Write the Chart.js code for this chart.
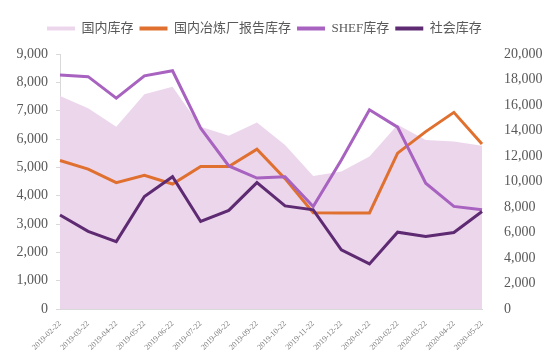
<!DOCTYPE html>
<html>
<head>
<meta charset="utf-8">
<script src="https://cdn.jsdelivr.net/npm/chart.js@4.4.0/dist/chart.umd.min.js"></script>
<style>
html,body{margin:0;padding:0;background:#fff;}
#wrap{width:550px;height:360px;position:relative;}
</style>
</head>
<body>
<div id="wrap"><canvas id="c" width="550" height="360"></canvas></div>
<script>
const labels = ['2019-02-22','2019-03-22','2019-04-22','2019-05-22','2019-06-22','2019-07-22','2019-08-22','2019-09-22','2019-10-22','2019-11-22','2019-12-22','2020-01-22','2020-02-22','2020-03-22','2020-04-22','2020-05-22'];
const domesticStock = [16710, 15750, 14300, 16840, 17440, 14300, 13580, 14620, 12870, 10440, 10780, 11960, 14450, 13260, 13130, 12800];
const smelterStock = [5240, 4940, 4460, 4720, 4410, 5030, 5030, 5640, 4600, 3400, 3390, 3390, 5500, 6260, 6940, 5820];
const shfeStock = [8260, 8200, 7440, 8230, 8410, 6380, 5050, 4620, 4670, 3620, 5260, 7030, 6420, 4440, 3620, 3500];
const socialStock = [3320, 2740, 2380, 3970, 4670, 3090, 3480, 4460, 3640, 3500, 2090, 1590, 2710, 2560, 2700, 3440];
const leftTicks = {min: 0, max: 9000, step: 1000};
const rightTicks = {min: 0, max: 20000, step: 2000};

const serif = '"Liberation Serif", "Times New Roman", "Noto Sans CJK SC", serif';
const textColor = '#595959';

const legendFix = {
  id: 'legendFix',
  beforeInit(chart) {
    const lg = chart.legend;
    if (!lg) return;
    const orig = lg.fit;
    lg.fit = function() { orig.call(this); this.height = 38; };
  },
  afterLayout(chart) {
    const lg = chart.legend;
    if (!lg) return;
    const pad = lg.options.labels.padding;
    lg.left = 47 - pad;
  }
};

new Chart(document.getElementById('c'), {
  type: 'line',
  data: {
    labels: labels,
    datasets: [
      {label: '国内库存', data: domesticStock, yAxisID: 'y2', fill: 'origin', backgroundColor: 'rgb(236,214,236)', borderColor: 'rgb(236,214,236)', borderWidth: 0, pointRadius: 0, tension: 0, order: 4},
      {label: '国内冶炼厂报告库存', data: smelterStock, yAxisID: 'y', borderColor: '#e0702f', backgroundColor: '#e0702f', borderWidth: 3, pointRadius: 0, tension: 0, fill: false, order: 3},
      {label: 'SHEF库存', data: shfeStock, yAxisID: 'y', borderColor: '#a862c0', backgroundColor: '#a862c0', borderWidth: 3, pointRadius: 0, tension: 0, fill: false, order: 2},
      {label: '社会库存', data: socialStock, yAxisID: 'y', borderColor: '#5e2a72', backgroundColor: '#5e2a72', borderWidth: 3, pointRadius: 0, tension: 0, fill: false, order: 1}
    ]
  },
  options: {
    responsive: false,
    animation: false,
    layout: {padding: {top: 16, left: 0, right: 0, bottom: 0}},
    plugins: {
      tooltip: {enabled: false},
      legend: {
        position: 'top',
        align: 'start',
        labels: {
          boxWidth: 28,
          boxHeight: 4,
          padding: 6,
          color: textColor,
          font: {family: serif, size: 13},
          sort: (a, b) => a.datasetIndex - b.datasetIndex,
          generateLabels(chart) {
            return chart.data.datasets.map((ds, i) => ({
              text: ds.label,
              fillStyle: ds.borderColor,
              strokeStyle: ds.borderColor,
              lineWidth: 0,
              hidden: false,
              datasetIndex: i,
              fontColor: textColor
            }));
          }
        }
      }
    },
    scales: {
      x: {
        type: 'category',
        offset: false,
        grid: {display: false},
        border: {display: true, color: '#d9d9d9'},
        ticks: {minRotation: 45, maxRotation: 45, autoSkip: false, padding: 2, color: '#7f7f7f', font: {family: serif, size: 8}},
        afterFit(s) { s.height = 51; }
      },
      y: {
        position: 'left',
        min: leftTicks.min, max: leftTicks.max,
        grid: {display: true, drawOnChartArea: false, drawTicks: true, tickLength: 4, color: '#d9d9d9'},
        border: {display: true, color: '#d9d9d9'},
        ticks: {stepSize: leftTicks.step, padding: 8, color: textColor, font: {family: serif, size: 14}},
        afterFit(s) { s.width = 60; }
      },
      y2: {
        position: 'right',
        min: rightTicks.min, max: rightTicks.max,
        grid: {display: false, drawOnChartArea: false},
        border: {display: false},
        ticks: {stepSize: rightTicks.step, padding: 14, color: textColor, font: {family: serif, size: 14}},
        afterFit(s) { s.width = 68; }
      }
    }
  },
  plugins: [legendFix]
});
</script>
</body>
</html>
